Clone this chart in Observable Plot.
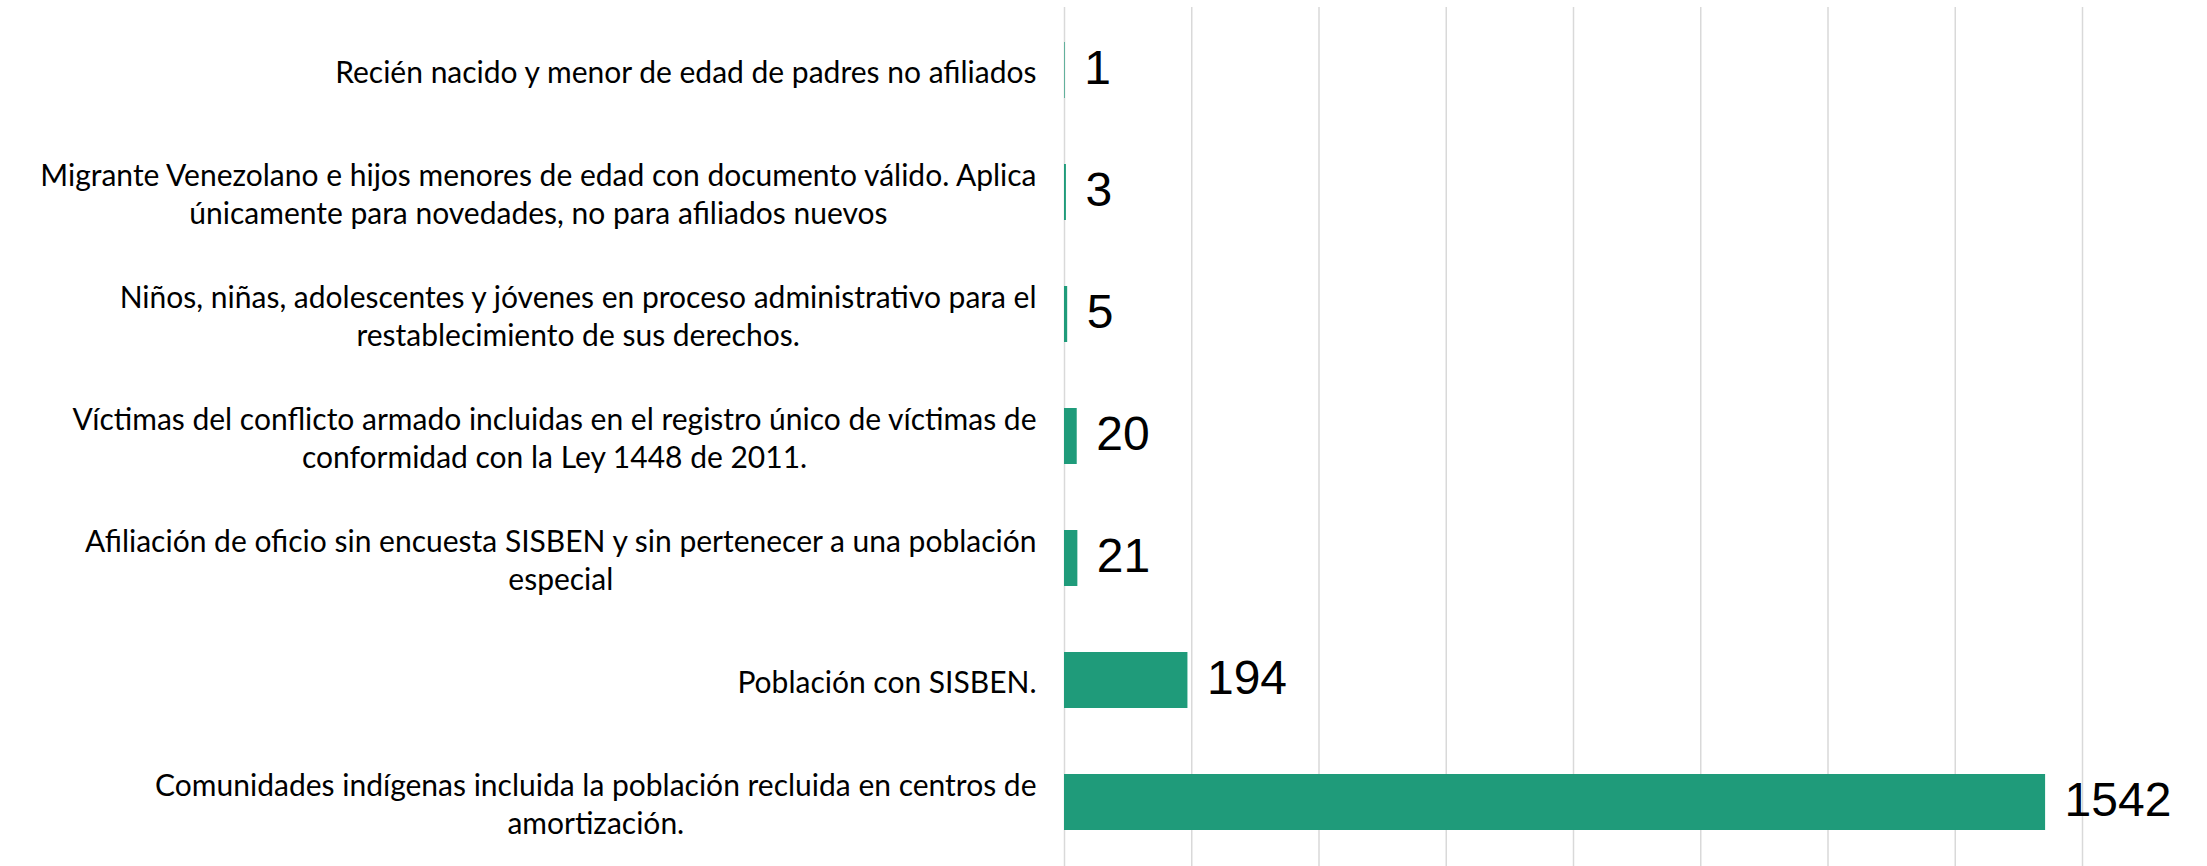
<!DOCTYPE html>
<html>
<head>
<meta charset="utf-8">
<script src="https://cdn.jsdelivr.net/npm/d3@7"></script>
<script src="https://cdn.jsdelivr.net/npm/@observablehq/plot@0.6"></script>
<style>
  html, body { margin: 0; padding: 0; background: #ffffff; }
  #chart svg { display: block; }
</style>
</head>
<body>
<div id="chart"></div>
<script>
const categories = [
  "Recién nacido y menor de edad de padres no afiliados",
  "Migrante Venezolano e hijos menores de edad con documento válido. Aplica únicamente para novedades, no para afiliados nuevos",
  "Niños, niñas, adolescentes y jóvenes en proceso administrativo para el restablecimiento de sus derechos.",
  "Víctimas del conflicto armado incluidas en el registro único de víctimas de conformidad con la Ley 1448 de 2011.",
  "Afiliación de oficio sin encuesta SISBEN y sin pertenecer a una población especial",
  "Población con SISBEN.",
  "Comunidades indígenas incluida la población recluida en centros de amortización."
];
const tickLabels = [
  "Recién nacido y menor de edad de padres no afiliados",
  "Migrante Venezolano e hijos menores de edad con documento válido. Aplica\núnicamente para novedades, no para afiliados nuevos",
  "Niños, niñas, adolescentes y jóvenes en proceso administrativo para el\nrestablecimiento de sus derechos.",
  "Víctimas del conflicto armado incluidas en el registro único de víctimas de\nconformidad con la Ley 1448 de 2011.",
  "Afiliación de oficio sin encuesta SISBEN y sin pertenecer a una población\nespecial",
  "Población con SISBEN.",
  "Comunidades indígenas incluida la población recluida en centros de\namortización."
];
const values = [1, 3, 5, 20, 21, 194, 1542];
const gridTicks = [0, 200, 400, 600, 800, 1000, 1200, 1400, 1600];

const data = categories.map((c, i) => ({category: c, value: values[i]}));

const chart = Plot.plot({
  width: 2207,
  height: 866,
  marginLeft: 1064,
  marginRight: 125,
  marginTop: 7,
  marginBottom: 0,
  style: {fontFamily: "Lato, 'Open Sans', sans-serif", background: "#ffffff", color: "#000000"},
  x: {domain: [0, 1600], axis: null},
  y: {domain: categories, paddingInner: 0.54, paddingOuter: 0.27, axis: null},
  marks: [
    Plot.ruleX(gridTicks, {stroke: "#d9d9d9", strokeWidth: 1.5}),
    Plot.barX(data, {y: "category", x: "value", fill: "#1f9b7a"}),
    Plot.text(data, {
      y: "category", x: "value", text: d => String(d.value),
      textAnchor: "start", dx: 19, dy: -2, fontSize: 48,
      fontFamily: "'Liberation Sans', Arial, sans-serif", fill: "#000000"
    }),
    Plot.axisY({
      anchor: "left", tickSize: 0, tickPadding: 28, fontSize: 30,
      lineHeight: 1.27, textAnchor: "end", fill: "#000000", label: null,
      tickFormat: d => tickLabels[categories.indexOf(d)]
    })
  ]
});
document.getElementById("chart").appendChild(chart);

// Excel-style labels: block right-aligned, lines centered within the block
chart.querySelectorAll("g[aria-label='y-axis tick label'] text").forEach(t => {
  const b = t.getBBox();
  const cx = b.x + b.width / 2;
  t.setAttribute("text-anchor", "middle");
  const spans = t.querySelectorAll("tspan");
  if (spans.length) spans.forEach(s => s.setAttribute("x", cx));
  else t.setAttribute("x", cx);
});
</script>
</body>
</html>
